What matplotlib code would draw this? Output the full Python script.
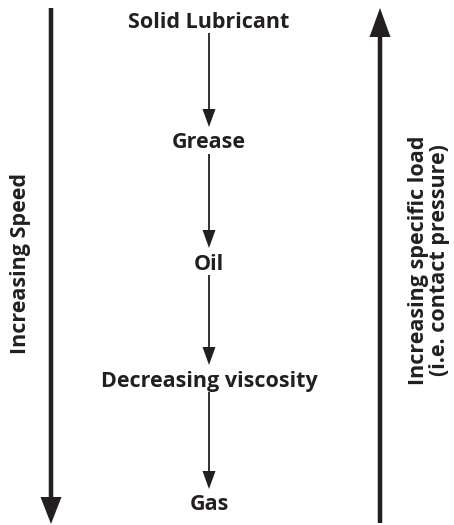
import matplotlib
matplotlib.use("Agg")
import matplotlib.pyplot as plt

# Centre column: lubricant types from top to bottom
stages = ["Solid Lubricant", "Grease", "Oil", "Decreasing viscosity", "Gas"]
stage_y = [22, 143, 264, 381, 505]

# Side labels
left_label = "Increasing Speed"
right_label = "Increasing specific load\n(i.e. contact pressure)"

W, H = 454, 525
FONT = "Open Sans"
FS = 15.5
INK = "#231f20"

fig = plt.figure(figsize=(W / 100, H / 100), dpi=100)
ax = fig.add_axes([0, 0, 1, 1])
ax.set_xlim(0, W)
ax.set_ylim(H, 0)
ax.axis("off")

cx = 209
for label, y in zip(stages, stage_y):
    ax.text(cx, y, label, ha="center", va="center", fontsize=FS,
            fontweight="bold", family=FONT, color=INK)

# thin arrows between stages
for y0, y1 in zip(stage_y[:-1], stage_y[1:]):
    start = y0 + 11
    end = y1 - 16
    ax.arrow(cx, start, 0, end - start, width=1.8, head_width=13,
             head_length=18, length_includes_head=True,
             color=INK, linewidth=0)

# big side arrows
ax.arrow(51, 8, 0, 516, width=4.5, head_width=21, head_length=27,
         length_includes_head=True, color=INK, linewidth=0)
ax.arrow(380, 523, 0, -515, width=4.5, head_width=21, head_length=29,
         length_includes_head=True, color=INK, linewidth=0)

ax.text(21, 264, left_label, rotation=90, ha="center", va="center",
        fontsize=FS, fontweight="bold", family=FONT, color=INK)
ax.text(429, 260, right_label, rotation=90, ha="center", va="center",
        fontsize=FS, fontweight="bold", family=FONT, color=INK,
        linespacing=1.0, multialignment="center")

fig.savefig("out.png", dpi=100)
